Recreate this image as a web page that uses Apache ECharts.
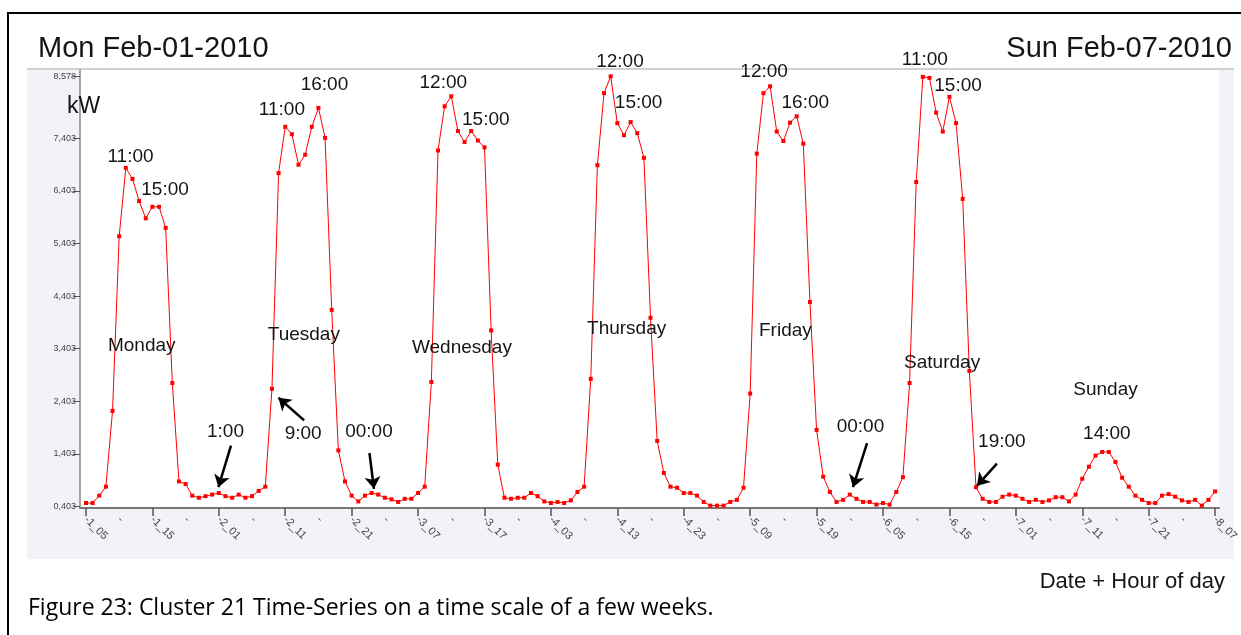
<!DOCTYPE html>
<html>
<head>
<meta charset="utf-8">
<title>Cluster 21 Time-Series</title>
<script src="https://cdn.jsdelivr.net/npm/echarts@6/dist/echarts.min.js"></script>
<style>
html, body { margin: 0; padding: 0; background: #fff; }
#main { width: 1241px; height: 635px; }
</style>
</head>
<body>
<div id="main"></div>
<script>
// hourly load in kW, from Mon 05:00 (index 0) to the next Mon 07:00 (index 170)
var kw = [
    0.47, 0.47, 0.61, 0.78, 2.22, 5.54, 6.84, 6.63, 6.21, 5.88,
    6.10, 6.10, 5.70, 2.75, 0.88, 0.83, 0.61, 0.57, 0.60, 0.63,
    0.66, 0.60, 0.57, 0.63, 0.57, 0.60, 0.70, 0.78, 2.64, 6.74,
    7.62, 7.48, 6.90, 7.09, 7.62, 7.98, 7.41, 4.14, 1.47, 0.88,
    0.61, 0.50, 0.61, 0.66, 0.63, 0.57, 0.54, 0.49, 0.55, 0.55,
    0.66, 0.78, 2.77, 7.17, 8.01, 8.20, 7.54, 7.33, 7.54, 7.36,
    7.23, 3.75, 1.20, 0.57, 0.55, 0.57, 0.57, 0.66, 0.60, 0.50,
    0.47, 0.49, 0.47, 0.52, 0.68, 0.78, 2.83, 6.89, 8.26, 8.58,
    7.69, 7.46, 7.71, 7.50, 7.03, 3.99, 1.65, 1.04, 0.78, 0.76,
    0.66, 0.66, 0.61, 0.49, 0.42, 0.42, 0.42, 0.49, 0.53, 0.76,
    2.55, 7.11, 8.26, 8.39, 7.53, 7.35, 7.70, 7.82, 7.30, 4.29,
    1.86, 0.97, 0.68, 0.49, 0.53, 0.63, 0.55, 0.49, 0.49, 0.44,
    0.47, 0.44, 0.68, 0.96, 2.75, 6.57, 8.57, 8.55, 7.89, 7.53,
    8.19, 7.69, 6.25, 2.98, 0.77, 0.55, 0.49, 0.49, 0.59, 0.63,
    0.61, 0.55, 0.49, 0.53, 0.49, 0.52, 0.58, 0.58, 0.50, 0.63,
    0.93, 1.16, 1.37, 1.44, 1.44, 1.25, 0.95, 0.78, 0.61, 0.53,
    0.47, 0.47, 0.61, 0.64, 0.59, 0.52, 0.49, 0.53, 0.42, 0.53,
    0.69
];

// one label every 10 hours (day_hour)
var tickLabels = [
    "-1_05", "-1_15", "-2_01", "-2_11", "-2_21", "-3_07", "-3_17", "-4_03", "-4_13",
    "-4_23", "-5_09", "-5_19", "-6_05", "-6_15", "-7_01", "-7_11", "-7_21", "-8_07"
];

var yTicks = [0.403, 1.403, 2.403, 3.403, 4.403, 5.403, 6.403, 7.403, 8.578];

// annotations: text, hour index, kW, optional vertical shift
var notes = [
    ["11:00", 6.7, 7.06], ["15:00", 11.9, 6.43], ["Monday", 8.4, 3.45], ["1:00", 21.0, 1.82],
    ["11:00", 29.5, 7.94], ["16:00", 35.9, 8.41], ["Tuesday", 32.8, 3.66], ["9:00", 32.7, 1.78],
    ["00:00", 42.6, 1.83], ["12:00", 53.8, 8.46], ["15:00", 60.2, 7.76], ["Wednesday", 56.6, 3.43],
    ["12:00", 80.4, 8.6, -13], ["15:00", 83.2, 8.08], ["Thursday", 81.4, 3.79],
    ["12:00", 102.1, 8.67], ["16:00", 108.3, 8.08], ["Friday", 105.3, 3.75], ["00:00", 116.6, 1.92],
    ["11:00", 126.3, 8.6, -15], ["15:00", 131.3, 8.40], ["Saturday", 128.9, 3.14], ["19:00", 137.9, 1.63],
    ["Sunday", 153.5, 2.63], ["14:00", 153.7, 1.78]
];

// arrows: from [hour, kW] to [hour, kW]
var arrows = [
    [[21.83, 1.56], [19.94, 0.77]],
    [[32.85, 2.04], [28.98, 2.47]],
    [[42.68, 1.42], [43.36, 0.74]],
    [[117.6, 1.61], [115.48, 0.77]],
    [[137.15, 1.22], [134.17, 0.80]]
];

var seriesData = kw.map(function (v, i) { return [i, v]; });
var labelPos = [];
for (var i = 0; i <= 170; i += 5) labelPos.push(i);
var tickPos = tickLabels.map(function (t, i) { return i * 10; });

var font = "Liberation Sans";
var txt = "#151515";

var chart = echarts.init(document.getElementById("main"));
chart.setOption({
    animation: false,
    backgroundColor: "#fff",
    title: [
        { text: "Mon Feb-01-2010", left: 38, top: 34, padding: 0,
          textStyle: { fontFamily: font, fontSize: 29, fontWeight: "normal", color: txt } },
        { text: "Sun Feb-07-2010", right: 9, top: 34, padding: 0,
          textStyle: { fontFamily: font, fontSize: 29, fontWeight: "normal", color: txt } },
        { text: "kW", left: 67, top: 95, padding: 0,
          textStyle: { fontFamily: font, fontSize: 23, fontWeight: "normal", color: txt } },
        { text: "Date + Hour of day", right: 16, top: 571, padding: 0,
          textStyle: { fontFamily: font, fontSize: 22, fontWeight: "normal", color: txt } },
        { text: "Figure 23: Cluster 21 Time-Series on a time scale of a few weeks.", left: 28, top: 597, padding: 0,
          textStyle: { fontFamily: "Open Sans", fontSize: 23, fontWeight: "normal", color: "#000" } }
    ],
    graphic: [
        { type: "rect", z: -10, shape: { x: 27, y: 69, width: 1207, height: 490 }, style: { fill: "#f4f2f6" } },
        { type: "line", shape: { x1: 27, y1: 69, x2: 1234, y2: 69 }, style: { stroke: "#cfcfd6", lineWidth: 2 } },
        { type: "polyline", shape: { points: [[8, 640], [8, 13], [1245, 13]] }, style: { stroke: "#000", lineWidth: 2, fill: null } }
    ],
    grid: { left: 80, right: 9, top: 70, bottom: 127, show: true, backgroundColor: "#fff", borderWidth: 0 },
    xAxis: {
        type: "value",
        min: -0.9,
        max: 170.6,
        splitLine: { show: false },
        axisLine: { show: true, onZero: false, lineStyle: { color: "#777", width: 2 } },
        axisTick: { show: true, customValues: tickPos, length: 8, lineStyle: { color: "#555", width: 1.5 } },
        axisLabel: {
            customValues: labelPos,
            rotate: -45,
            margin: 10,
            fontFamily: font,
            fontSize: 11,
            color: "#444",
            formatter: function (v) {
                return v % 10 === 0 ? tickLabels[v / 10] : "-";
            }
        }
    },
    yAxis: {
        type: "value",
        min: 0.375,
        max: 8.70,
        splitLine: { show: false },
        axisLine: { show: true, onZero: false, lineStyle: { color: "#888", width: 1.5 } },
        axisTick: { show: true, customValues: yTicks, length: 7, lineStyle: { color: "#555" } },
        axisLabel: {
            customValues: yTicks,
            margin: 4,
            fontFamily: font,
            fontSize: 9,
            color: "#444",
            formatter: function (v) { return v.toFixed(3).replace(".", ","); }
        }
    },
    series: [{
        type: "line",
        data: seriesData,
        symbol: "rect",
        symbolSize: 4,
        showAllSymbol: true,
        lineStyle: { color: "#ff0000", width: 1 },
        itemStyle: { color: "#ff0000" },
        markPoint: {
            silent: true,
            symbol: "circle",
            symbolSize: 1,
            itemStyle: { color: "transparent" },
            data: notes.map(function (n) {
                return {
                    coord: [n[1], n[2]],
                    label: {
                        show: true,
                        position: "inside",
                        offset: [0, n[3] || 0],
                        formatter: n[0],
                        fontFamily: font,
                        fontSize: 19,
                        color: txt
                    }
                };
            })
        },
        markLine: {
            silent: true,
            symbol: ["none", "arrow"],
            symbolSize: 12,
            label: { show: false },
            lineStyle: { color: "#000", width: 2.5, type: "solid" },
            data: arrows.map(function (a) {
                return [{ coord: a[0] }, { coord: a[1] }];
            })
        }
    }]
});
</script>
</body>
</html>
